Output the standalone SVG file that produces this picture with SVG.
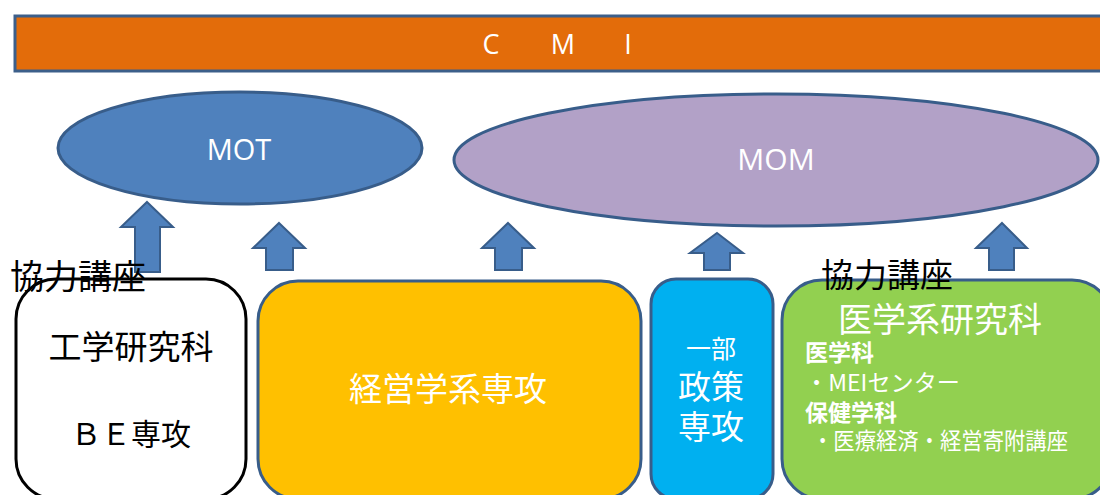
<svg xmlns="http://www.w3.org/2000/svg" width="1100" height="495" viewBox="0 0 1100 495">
<style>
.lat{font-family:"Open Sans","Noto Sans",sans-serif;fill:#fff}
.jp{font-family:"Noto Sans CJK JP",sans-serif}
.w{fill:#fff}
.k{fill:#000}
.arr{fill:#4f81bd;stroke:#385d8a;stroke-width:2}
.box{stroke:#385d8a;stroke-width:3}
</style>
<rect width="1100" height="495" fill="#fff"/>
<g id="cmi">
<rect x="15" y="16" width="1090" height="55" fill="#e36c0a" stroke="#3c5f8a" stroke-width="3"/>
<text class="lat" x="491" y="54" font-size="27" text-anchor="middle">C</text>
<text class="lat" x="563" y="54" font-size="27" text-anchor="middle">M</text>
<text class="lat" x="628" y="54" font-size="27" text-anchor="middle">I</text>
</g>
<g id="mot">
<ellipse cx="240" cy="148" rx="182" ry="56" fill="#4f81bd" stroke="#385d8a" stroke-width="3"/>
<text class="lat" x="239" y="160" font-size="29" text-anchor="middle">MOT</text>
</g>
<g id="mom">
<ellipse cx="776" cy="160" rx="322" ry="66" fill="#b2a1c7" stroke="#385d8a" stroke-width="3"/>
<text class="lat" x="776" y="170" font-size="30" text-anchor="middle">MOM</text>
</g>
<g id="connectors">
<polygon class="arr" points="147,202 173,227 160,227 160,272 135,272 135,227 121,227"/>
<polygon class="arr" points="279,223 305,248 293,248 293,270 266,270 266,248 253,248"/>
<polygon class="arr" points="508,223 534,248 522,248 522,270 495,270 495,248 482,248"/>
<polygon class="arr" points="717,233 743,253 730,253 730,270 704,270 704,253 690,253"/>
<polygon class="arr" points="1002,223 1027,248 1014,248 1014,270 989,270 989,248 976,248"/>
</g>
<g id="kogaku">
<rect x="16" y="279" width="230" height="220" rx="40" fill="#fff" stroke="#000" stroke-width="3"/>
<text class="jp k" x="131" y="359" font-size="33" text-anchor="middle">工学研究科</text>
<text class="jp k" x="131" y="445" font-size="30" text-anchor="middle">ＢＥ専攻</text>
</g>
<g id="keiei">
<rect x="258" y="281" width="383" height="218" rx="40" fill="#ffc000" class="box"/>
<text class="jp w" x="448" y="401" font-size="33" text-anchor="middle">経営学系専攻</text>
</g>
<g id="seisaku">
<rect x="651" y="279" width="122" height="220" rx="25" fill="#00b0f0" class="box"/>
<text class="jp w" x="711" y="358" font-size="25" text-anchor="middle">一部</text>
<text class="jp w" x="711" y="399" font-size="33" text-anchor="middle">政策</text>
<text class="jp w" x="711" y="439" font-size="33" text-anchor="middle">専攻</text>
</g>
<g id="igaku">
<rect x="782" y="280" width="330" height="219" rx="40" fill="#92d050" class="box"/>
<text class="jp w" x="940" y="332" font-size="34" text-anchor="middle">医学系研究科</text>
<text class="jp w" x="805" y="361" font-size="23" font-weight="bold">医学科</text>
<text class="jp w" x="805" y="391" font-size="23" textLength="155" lengthAdjust="spacingAndGlyphs">・MEIセンター</text>
<text class="jp w" x="805" y="421" font-size="23" font-weight="bold">保健学科</text>
<text class="jp w" x="812" y="449" font-size="23" textLength="256" lengthAdjust="spacingAndGlyphs">・医療経済・経営寄附講座</text>
</g>
<g id="kyoryoku-left">
<text class="jp k" x="10" y="289" font-size="34">協力講座</text>
</g>
<g id="kyoryoku-right">
<text class="jp k" x="821" y="287" font-size="33">協力講座</text>
</g>
</svg>
